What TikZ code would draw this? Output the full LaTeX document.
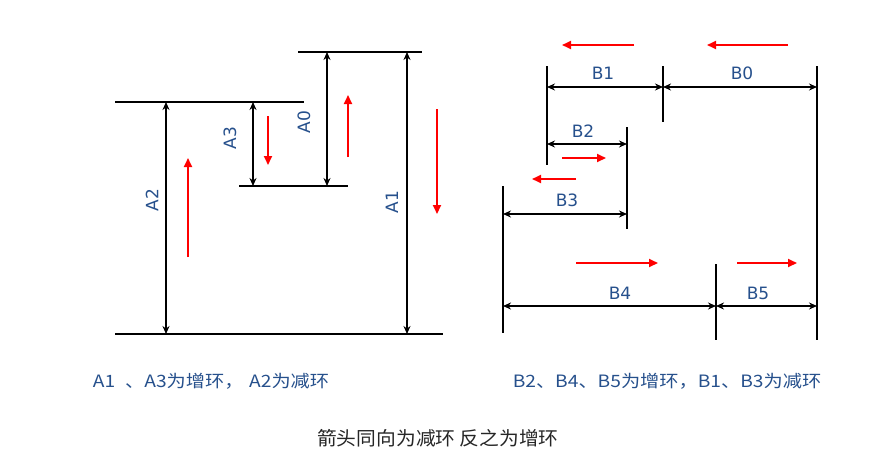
\documentclass[tikz,border=0pt]{standalone}
\usepackage{fontspec}
\usepackage{tikz}
\usetikzlibrary{arrows.meta}
\setmainfont{DejaVu Sans}
\newfontfamily\cjkFont{Noto Sans CJK SC}
\tikzstyle{sketch} = [x = 1pt, y = -1pt]
\definecolor{labelColor}{RGB}{38,80,140}
\definecolor{flowColor}{RGB}{255,0,0}
\tikzstyle{extLine} = [color=black, line width=1.9pt]
\tikzstyle{dimLine} = [color=black, line width=1.5pt, {Stealth[length=8pt,width=7pt]}-{Stealth[length=8pt,width=7pt]}]
\tikzstyle{flowLine} = [color=flowColor, line width=2pt, -{Triangle[length=9pt,width=8pt]}]
\tikzstyle{dimText} = [text=labelColor, inner sep=0pt, font=\fontsize{17}{17}\selectfont]
\tikzstyle{noteText} = [text=labelColor, inner sep=0pt, xscale=1.13, font=\cjkFont\fontsize{17}{17}\selectfont]
\tikzstyle{ruleText} = [text=black!85, inner sep=0pt, xscale=1.04, font=\cjkFont\fontsize{19}{19}\selectfont]
\newcommand{\extensionLine}[5]{\coordinate (#5Start) at (#1,#2); \coordinate (#5End) at (#3,#4); \draw [extLine] (#5Start) -- (#5End);}
\newcommand{\dimension}[5]{\coordinate (#5Start) at (#1,#2); \coordinate (#5End) at (#3,#4); \draw [dimLine] (#5Start) -- (#5End);}
\newcommand{\flowArrow}[5]{\coordinate (#5Tail) at (#1,#2); \coordinate (#5Head) at (#3,#4); \draw [flowLine] (#5Tail) -- (#5Head);}

\begin{document}
\begin{tikzpicture}[sketch]
  \useasboundingbox (0,0) rectangle (891,466);

  % left chain A
  \extensionLine{298}{52}{422}{52}{topA}
  \extensionLine{115}{102}{304}{102}{midA}
  \extensionLine{239}{186}{348}{186}{lowA}
  \extensionLine{115}{334}{443}{334}{baseA}
  \dimension{166}{102}{166}{334}{dimA2}
  \dimension{253}{102}{253}{186}{dimA3}
  \dimension{327}{52}{327}{186}{dimA0}
  \dimension{407}{52}{407}{334}{dimA1}
  \node [dimText, rotate=90] (labelA2) at (152,200) {A2};
  \node [dimText, rotate=90] (labelA3) at (230,138) {A3};
  \node [dimText, rotate=90] (labelA0) at (304,122) {A0};
  \node [dimText, rotate=90] (labelA1) at (392,202) {A1};
  \flowArrow{188}{257}{188}{158}{flowA2}
  \flowArrow{268}{116}{268}{165}{flowA3}
  \flowArrow{348}{157}{348}{95}{flowA0}
  \flowArrow{437}{109}{437}{214}{flowA1}

  % right chain B
  \extensionLine{547}{66}{547}{165}{leftB1}
  \extensionLine{663}{66}{663}{122}{midB0}
  \extensionLine{817}{66}{817}{340}{rightB}
  \extensionLine{627}{127}{627}{229}{rightB2}
  \extensionLine{503}{186}{503}{333}{leftB3}
  \extensionLine{716}{264}{716}{340}{midB4}
  \dimension{547}{87}{663}{87}{dimB1}
  \dimension{663}{87}{817}{87}{dimB0}
  \dimension{547}{144}{627}{144}{dimB2}
  \dimension{503}{214}{627}{214}{dimB3}
  \dimension{503}{306}{716}{306}{dimB4}
  \dimension{716}{306}{817}{306}{dimB5}
  \node [dimText] (labelB1) at (603,73) {B1};
  \node [dimText] (labelB0) at (742,73) {B0};
  \node [dimText] (labelB2) at (583,131) {B2};
  \node [dimText] (labelB3) at (567,200) {B3};
  \node [dimText] (labelB4) at (620,293) {B4};
  \node [dimText] (labelB5) at (758,293) {B5};
  \flowArrow{634}{45}{562}{45}{flowB1}
  \flowArrow{788}{45}{707}{45}{flowB0}
  \flowArrow{562}{158}{606}{158}{flowB2}
  \flowArrow{576}{179}{532}{179}{flowB3}
  \flowArrow{576}{263}{658}{263}{flowB4}
  \flowArrow{737}{263}{797}{263}{flowB5}

  % notes
  \node [noteText] (noteA) at (211,381) {A1 \hspace{5pt}、A3为增环，\hspace{5pt}A2为减环};
  \node [noteText] (noteB) at (667,381) {B2、B4、B5为增环，B1、B3为减环};
  \node [ruleText] (rule) at (438,438) {箭头同向为减环 反之为增环};
\end{tikzpicture}
\end{document}
